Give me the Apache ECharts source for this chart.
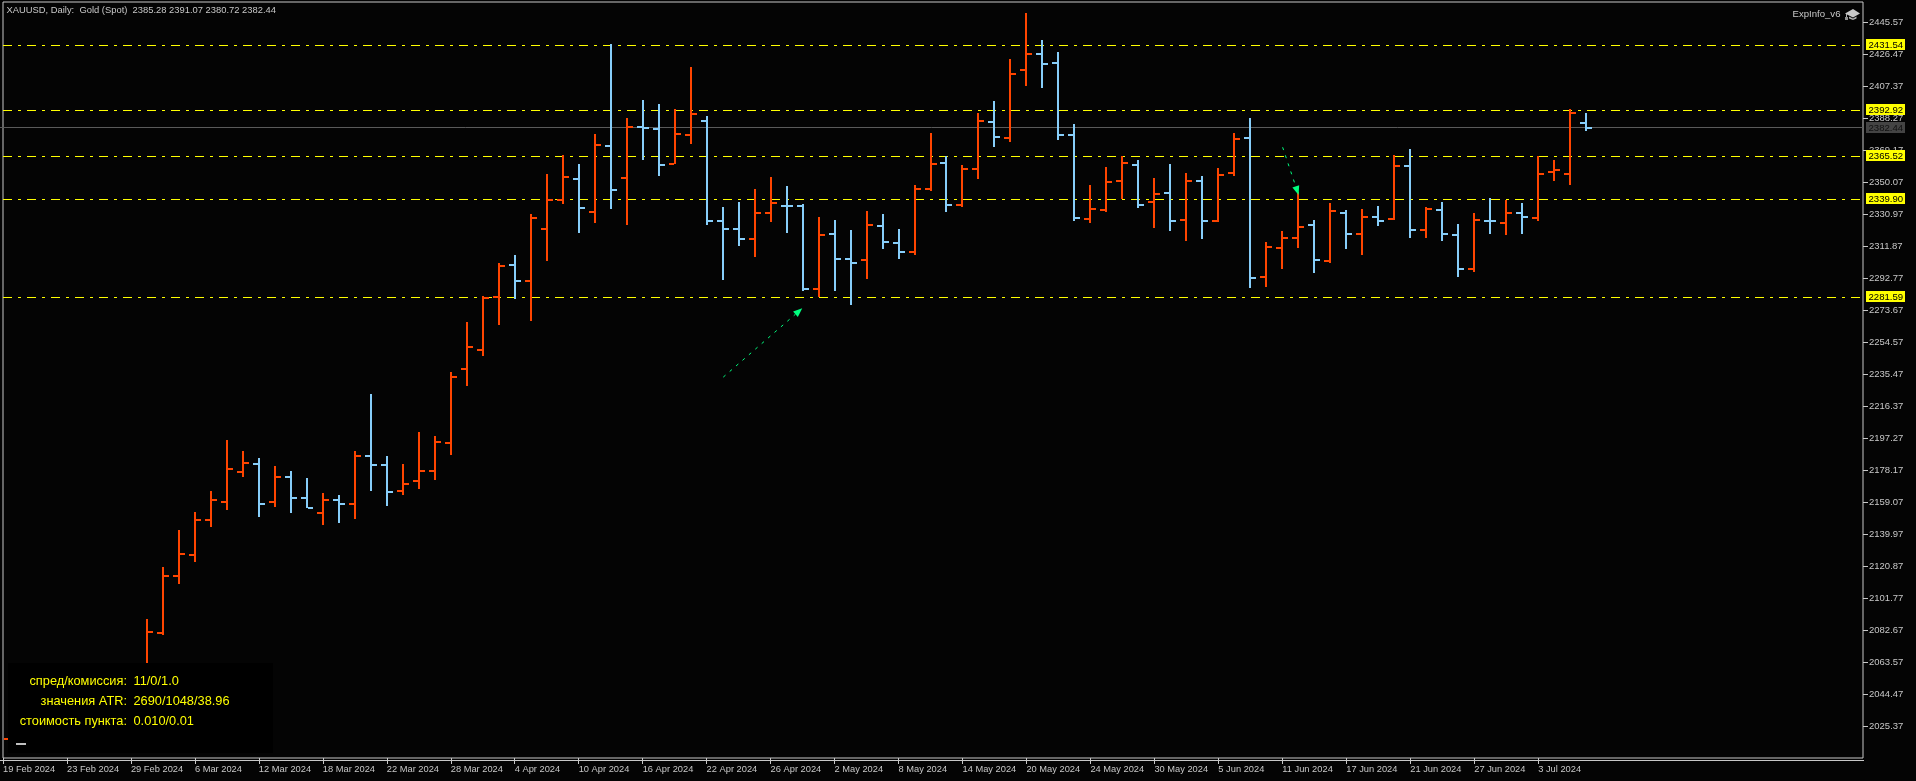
<!DOCTYPE html>
<html><head><meta charset="utf-8">
<style>html,body{margin:0;padding:0;background:#040404;overflow:hidden}#c{width:1916px;height:781px}</style>
<script src="https://cdn.jsdelivr.net/npm/echarts@6/dist/echarts.min.js"></script>
</head><body><div id="c"></div>
<script>
const categories = ["19 Feb 2024","20 Feb 2024","21 Feb 2024","22 Feb 2024","23 Feb 2024","26 Feb 2024","27 Feb 2024","28 Feb 2024","29 Feb 2024","1 Mar 2024","4 Mar 2024","5 Mar 2024","6 Mar 2024","7 Mar 2024","8 Mar 2024","11 Mar 2024","12 Mar 2024","13 Mar 2024","14 Mar 2024","15 Mar 2024","18 Mar 2024","19 Mar 2024","20 Mar 2024","21 Mar 2024","22 Mar 2024","25 Mar 2024","26 Mar 2024","27 Mar 2024","28 Mar 2024","1 Apr 2024","2 Apr 2024","3 Apr 2024","4 Apr 2024","5 Apr 2024","8 Apr 2024","9 Apr 2024","10 Apr 2024","11 Apr 2024","12 Apr 2024","15 Apr 2024","16 Apr 2024","17 Apr 2024","18 Apr 2024","19 Apr 2024","22 Apr 2024","23 Apr 2024","24 Apr 2024","25 Apr 2024","26 Apr 2024","29 Apr 2024","30 Apr 2024","1 May 2024","2 May 2024","3 May 2024","6 May 2024","7 May 2024","8 May 2024","9 May 2024","10 May 2024","13 May 2024","14 May 2024","15 May 2024","16 May 2024","17 May 2024","20 May 2024","21 May 2024","22 May 2024","23 May 2024","24 May 2024","27 May 2024","28 May 2024","29 May 2024","30 May 2024","31 May 2024","3 Jun 2024","4 Jun 2024","5 Jun 2024","6 Jun 2024","7 Jun 2024","10 Jun 2024","11 Jun 2024","12 Jun 2024","13 Jun 2024","14 Jun 2024","17 Jun 2024","18 Jun 2024","19 Jun 2024","20 Jun 2024","21 Jun 2024","24 Jun 2024","25 Jun 2024","26 Jun 2024","27 Jun 2024","28 Jun 2024","1 Jul 2024","2 Jul 2024","3 Jul 2024","4 Jul 2024","5 Jul 2024","8 Jul 2024"];
const _ = null;
const opens = [_,_,_,_,_,_,_,_,_,2044.00,2080.73,2114.94,2127.48,2148.38,2159.13,2177.04,2181.82,2159.13,2174.06,2161.52,2152.56,2160.32,2157.94,2186.60,2181.22,2165.70,2171.67,2177.64,2194.36,2238.55,2249.89,2281.54,2300.65,2291.10,2322.15,2339.46,2352.00,2332.30,2371.71,2352.60,2383.05,2381.86,2360.96,2378.28,2386.64,2326.92,2322.15,2316.18,2331.70,2335.88,2335.88,2286.32,2319.16,2304.23,2303.64,2323.94,2313.79,2308.41,2346.03,2361.56,2336.48,2357.98,2386.04,2376.49,2417.09,2426.64,2421.27,2378.28,2328.12,2333.49,2350.81,2360.36,2338.27,2343.64,2327.52,2350.81,2326.92,2355.59,2376.49,2293.48,2310.80,2316.77,2324.54,2303.04,2331.70,2319.16,2329.31,2328.12,2359.77,2321.55,2333.49,2318.56,2298.26,2326.92,2325.73,2331.70,2328.72,2356.18,2354.99,2385.28];
const highs = [_,_,_,_,_,_,_,_,_,2089.09,2120.14,2142.41,2152.98,2165.58,2195.97,2189.41,2185.23,2180.45,2177.46,2173.28,2164.33,2163.13,2189.41,2223.44,2186.42,2181.64,2200.75,2198.36,2236.58,2266.44,2281.96,2301.67,2306.44,2330.92,2354.81,2366.16,2360.78,2378.69,2432.44,2388.25,2399.00,2396.61,2393.62,2418.70,2389.44,2335.10,2338.09,2345.85,2353.02,2347.64,2336.89,2329.13,2327.34,2321.37,2332.72,2330.92,2321.97,2348.24,2379.29,2365.32,2360.18,2391.23,2398.40,2423.48,2450.95,2434.83,2427.66,2384.67,2348.24,2358.99,2365.32,2363.17,2352.42,2360.78,2355.41,2353.62,2358.39,2379.29,2388.25,2314.20,2320.77,2344.24,2327.34,2337.49,2333.31,2333.91,2335.70,2366.16,2369.74,2335.10,2338.09,2324.95,2331.52,2340.48,2339.46,2337.49,2365.56,2363.17,2393.62,2391.07];
const lows = [_,_,_,_,_,_,_,_,_,2043.00,2079.71,2110.35,2123.48,2143.90,2154.17,2174.24,2150.35,2155.97,2152.74,2155.25,2145.58,2146.77,2149.16,2165.88,2156.92,2163.49,2167.07,2172.45,2187.38,2228.58,2246.49,2265.00,2280.05,2267.39,2302.62,2336.66,2319.34,2325.31,2333.67,2324.12,2362.93,2353.38,2360.54,2372.48,2324.12,2291.28,2311.58,2305.01,2325.91,2319.34,2284.71,2281.36,2285.30,2276.94,2291.87,2309.79,2303.82,2306.20,2344.42,2331.88,2334.87,2351.58,2370.69,2373.68,2407.12,2405.92,2374.87,2326.51,2325.31,2331.88,2339.88,2334.27,2322.33,2320.54,2314.56,2315.76,2325.91,2353.38,2286.50,2287.69,2297.84,2310.38,2295.46,2301.43,2309.79,2306.20,2323.52,2327.52,2316.36,2316.36,2314.98,2293.66,2296.05,2318.74,2318.15,2318.74,2326.51,2350.39,2348.00,2380.72];
const closes = [2017.79,_,_,_,_,_,_,_,_,2081.50,2114.94,2128.08,2148.38,2160.32,2178.84,2182.42,2157.94,2174.06,2161.52,2155.55,2160.32,2157.94,2186.60,2181.22,2165.10,2169.88,2177.64,2194.96,2233.77,2251.69,2280.95,2300.05,2291.10,2328.72,2339.46,2353.20,2334.69,2372.31,2345.44,2383.05,2382.46,2360.36,2378.87,2390.82,2326.92,2322.15,2316.18,2331.70,2337.67,2335.88,2286.32,2318.56,2304.23,2301.84,2324.54,2314.38,2308.41,2346.03,2360.96,2336.48,2357.98,2386.64,2377.08,2414.70,2426.64,2420.67,2378.28,2328.72,2334.09,2350.21,2361.56,2336.48,2343.05,2326.92,2350.81,2326.92,2354.39,2375.89,2292.89,2311.40,2316.77,2323.34,2303.64,2332.90,2319.16,2329.31,2326.92,2359.77,2321.55,2334.09,2319.16,2298.26,2327.52,2326.92,2331.70,2329.31,2354.99,2357.38,2391.41,2382.44];
const levels = [2431.54,2392.92,2365.52,2339.90,2281.59];
const lastPrice = 2382.44;
const yTicks = [2445.57,2426.47,2407.37,2388.27,2369.17,2350.07,2330.97,2311.87,2292.77,2273.67,2254.57,2235.47,2216.37,2197.27,2178.17,2159.07,2139.97,2120.87,2101.77,2082.67,2063.57,2044.47,2025.37];
const xTicks = [0,4,8,12,16,20,24,28,32,36,40,44,48,52,56,60,64,68,72,76,80,84,88,92,96];
const arrows = [[45.04,2233.6,49.98,2274.7],[80.02,2370.8,81.02,2342.3]];
const title = "XAUUSD, Daily:  Gold (Spot)  2385.28 2391.07 2380.72 2382.44";
const panelKeys = ["спред/комиссия:","значения ATR:","стоимость пункта:"];
const panelVals = ["11/0/1.0","2690/1048/38.96","0.010/0.01"];

const UP='#FF4500', DOWN='#87CEFA', TXT='#C8C8C8', YEL='#FFFF00', GRN='#00FF7F';
const FONT='"Liberation Sans",Arial,sans-serif';
const bars = categories.map((c,i)=>[i,opens[i],highs[i],lows[i],closes[i]]).filter(r=>r[4]!==null);
const fin = Number.isFinite;

const chart = echarts.init(document.getElementById('c'),null,{renderer:'canvas'});
const seg=(x1,y1,x2,y2,stroke,w,dash)=>({type:'line',shape:{x1,y1,x2,y2},style:{stroke,lineWidth:w,lineDash:dash||null,fill:null},silent:true});

function renderBar(p,api){
  const i=api.value(0),o=api.value(1),h=api.value(2),l=api.value(3),c=api.value(4);
  const yf=v=>Math.round(api.coord([i,v])[1]);
  const x=Math.round(api.coord([i,c])[0]);
  const col=(fin(o)&&c>o)||!fin(o)?UP:DOWN;
  const ch=[];
  if(fin(h)&&fin(l)) ch.push(seg(x,yf(h),x,yf(l),col,2));
  if(fin(o)) ch.push(seg(x-6,yf(o),x-1,yf(o),col,2));
  ch.push(seg(x+1,yf(c),x+6,yf(c),col,2));
  return {type:'group',children:ch};
}
function renderLevel(p,api){
  const v=api.value(0);
  const a=api.coord([0,v]);const b=api.coord([116.125,v]);
  const y=Math.round(a[1])+0.5;
  return seg(a[0],y,b[0],y,YEL,1,[9,6,3,6]);
}
function renderLevelLabel(p,api){
  const v=api.value(0);
  const y=Math.round(api.coord([0,v])[1]);
  return {type:'group',children:[
    {type:'rect',shape:{x:1866,y:y-6,width:39,height:11},style:{fill:YEL},silent:true},
    {type:'text',style:{x:1868.5,y:y,text:v.toFixed(2),fill:'#000',font:'9.6px '+FONT,align:'left',verticalAlign:'middle'},silent:true}
  ]};
}
function renderLast(p,api){
  const v=api.value(0);
  const y=Math.floor(api.coord([0,v])[1]);
  return {type:'group',children:[
    seg(0,y+0.5,1863,y+0.5,'#5A5A5A',1),
    {type:'rect',shape:{x:1866,y:y-5,width:39,height:11},style:{fill:'#444444'},silent:true},
    {type:'text',style:{x:1868.5,y:y+1,text:v.toFixed(2),fill:'#111',font:'9.6px '+FONT,align:'left',verticalAlign:'middle'},silent:true}
  ]};
}
function renderArrow(p,api){
  const a=api.coord([api.value(0),api.value(1)]),b=api.coord([api.value(2),api.value(3)]);
  const dx=b[0]-a[0],dy=b[1]-a[1],n=Math.hypot(dx,dy),ux=dx/n,uy=dy/n;
  const bx=b[0]-ux*9,by=b[1]-uy*9,hw=3.6;
  return {type:'group',children:[
    seg(a[0],a[1],bx,by,GRN,1,[3,5.5]),
    {type:'polygon',shape:{points:[b,[bx-uy*hw,by+ux*hw],[bx+uy*hw,by-ux*hw]]},style:{fill:GRN},silent:true}
  ]};
}

const g=[];
g.push({type:'line',z:50,shape:{x1:0,y1:760.5,x2:1864,y2:760.5},style:{stroke:TXT,lineWidth:1}});
g.push({type:'rect',z:60,shape:{x:8,y:663,width:265,height:90},style:{fill:'#000'}});
g.push({type:'line',z:61,shape:{x1:16,y1:744,x2:26,y2:744},style:{stroke:'#C0C0C0',lineWidth:2}});
panelKeys.forEach((k,i)=>{
  const y=681+i*20;
  g.push({type:'text',z:61,style:{x:127,y,text:k,fill:YEL,font:'12.8px '+FONT,align:'right',verticalAlign:'middle'}});
  g.push({type:'text',z:61,style:{x:133.5,y,text:panelVals[i],fill:YEL,font:'12.8px '+FONT,align:'left',verticalAlign:'middle'}});
});
g.push({type:'text',z:61,style:{x:6.5,y:10,text:title,fill:TXT,font:'9.4px '+FONT,align:'left',verticalAlign:'middle'}});
g.push({type:'text',z:61,style:{x:1792.5,y:14,text:'ExpInfo_v6',fill:TXT,font:'9.6px '+FONT,align:'left',verticalAlign:'middle'}});
g.push({type:'polygon',z:61,shape:{points:[[1845,13.5],[1853,9],[1860,13.5],[1853,17.5]]},style:{fill:'#C8C8C8'}});
g.push({type:'polygon',z:61,shape:{points:[[1849,16.5],[1853,18.5],[1856.5,16.5],[1856.5,18.5],[1853,20],[1849,18.5]]},style:{fill:'#B0B0B0'}});
g.push({type:'rect',z:61,shape:{x:1846,y:14,width:1,height:5},style:{fill:'#B0B0B0'}});
g.push({type:'rect',z:61,shape:{x:1845,y:17,width:3,height:3},style:{fill:'#909090'}});

chart.setOption({
  animation:false,
  backgroundColor:'#040404',
  textStyle:{fontFamily:FONT},
  grid:{left:2,top:2,width:1861,height:756,show:true,borderColor:TXT,borderWidth:1,backgroundColor:'transparent',containLabel:false},
  xAxis:{type:'value',min:0,max:116.3125,splitLine:{show:false},
    axisLine:{show:false,onZero:false},
    axisTick:{show:true,length:6,lineStyle:{color:TXT},customValues:xTicks},
    axisLabel:{show:true,color:TXT,fontFamily:FONT,fontSize:9.3,align:'left',margin:7,customValues:xTicks,
      formatter:v=>categories[Math.round(v)]||''}},
  yAxis:{type:'value',position:'right',min:2006.27,max:2457.5,scale:true,splitLine:{show:false},
    axisLine:{show:false,onZero:false},
    axisTick:{show:true,length:5,lineStyle:{color:TXT},customValues:yTicks},
    axisLabel:{show:true,color:TXT,fontFamily:FONT,fontSize:9.5,align:'left',margin:6,customValues:yTicks,
      formatter:v=>Number(v).toFixed(2)}},
  graphic:{elements:g},
  series:[
    {type:'custom',name:'last',z:3,clip:false,silent:true,renderItem:renderLast,data:[[lastPrice]],encode:{y:0}},
    {type:'custom',name:'levels',z:4,clip:false,silent:true,renderItem:renderLevel,data:levels.map(v=>[v]),encode:{y:0}},
    {type:'custom',name:'bars',z:5,clip:false,silent:true,renderItem:renderBar,data:bars,
      dimensions:['i','o','h','l','c'],encode:{x:0,y:[1,2,3,4]}},
    {type:'custom',name:'arrows',z:6,clip:false,silent:true,renderItem:renderArrow,data:arrows,encode:{x:[0,2],y:[1,3]}},
    {type:'custom',name:'levelLabels',z:7,clip:false,silent:true,renderItem:renderLevelLabel,data:levels.map(v=>[v]),encode:{y:0}}
  ]
});
</script></body></html>
